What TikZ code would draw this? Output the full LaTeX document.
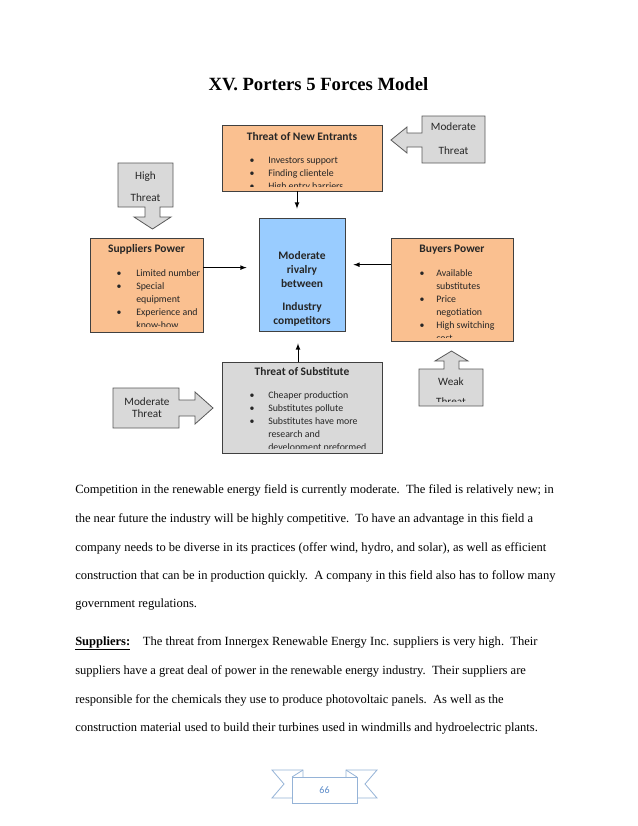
\documentclass[tikz,border=0pt]{standalone}
\usepackage{fontspec}
\setmainfont{Liberation Serif}
\newfontfamily\calibri{Carlito}
\usepackage{xcolor}
\usepackage{tikz}
\usetikzlibrary{positioning}
\definecolor{peach}{HTML}{FAC090}
\definecolor{rivalblue}{HTML}{99CCFF}
\definecolor{calloutgrey}{HTML}{D9D9D9}
\definecolor{ribbonblue}{HTML}{95B3D7}
\definecolor{numblue}{HTML}{5B8BC9}
\tikzset{
	forcebox/.style={rectangle, draw=black!75, line width=0.6pt, inner sep=0pt},
	calloutshape/.style={draw=black!65, fill=calloutgrey, line width=0.6pt},
	forcearrow/.style={-latex, line width=0.6pt}
}
\tikzset{
	boxtitle/.style={font=\calibri\bfseries\fontsize{8.6}{10}\selectfont, text=black!85, anchor=mid, inner sep=0pt},
	bulletdot/.style={font=\calibri\fontsize{7.4}{9}\selectfont, text=black!85, anchor=mid, inner sep=0pt},
	bullettext/.style={font=\calibri\fontsize{7.4}{9}\selectfont, text=black!85, anchor=mid west, inner sep=0pt},
	callouttext/.style={font=\calibri\fontsize{8.4}{10}\selectfont, text=black!85, anchor=mid, inner sep=0pt},
	bodyline/.style={font=\fontsize{9.4}{11}\selectfont, anchor=mid west, inner sep=0pt}
}

\begin{document}
\begin{tikzpicture}[x=0.75pt, y=-0.75pt]
		\useasboundingbox[fill=white] (0,0) rectangle (638,826);
		\node[font=\bfseries\fontsize{14}{16}\selectfont, anchor=mid, inner sep=0pt] at (318.5,87) (title) {XV. Porters 5 Forces Model};
		
		%Boxes
		\node[forcebox, fill=peach, minimum width=120pt, minimum height=49.5pt] at (302,158) (entrants) {};
		\node[forcebox, fill=peach, minimum width=84.75pt, minimum height=70.5pt] at (146.5,285) (suppliers) {};
		\node[forcebox, fill=rivalblue, minimum width=64.5pt, minimum height=84.75pt] at (302,274.5) (rivalry) {};
		\node[forcebox, fill=peach, minimum width=91.5pt, minimum height=77.25pt] at (452,289.5) (buyers) {};
		\node[forcebox, fill=calloutgrey, minimum width=120pt, minimum height=68.25pt] at (302,407.5) (substitute) {};
		
		%Threat of new entrants
		\begin{scope}
			\clip (entrants.north west) rectangle ([yshift=3.9pt]entrants.south east);
			\node[boxtitle] at (302,137) (entT) {Threat of New Entrants};
			\node[bulletdot] at (252,160) (entB1) {•};
			\node[bullettext] at (268,160) (ent1) {Investors support};
			\node[bulletdot] at (252,173) (entB2) {•};
			\node[bullettext] at (268,173) (ent2) {Finding clientele};
			\node[bulletdot] at (252,186) (entB3) {•};
			\node[bullettext] at (268,186) (ent3) {High entry barriers};
		\end{scope}
		
		%Suppliers power
		\begin{scope}
			\clip (suppliers.north west) rectangle ([yshift=4.5pt]suppliers.south east);
			\node[boxtitle] at (146.5,249) (supT) {Suppliers Power};
			\node[bulletdot] at (119,273) (supB1) {•};
			\node[bullettext] at (136,273) (sup1) {Limited number};
			\node[bulletdot] at (119,286) (supB2) {•};
			\node[bullettext] at (136,286) (sup2) {Special};
			\node[bullettext] at (136,299) (sup3) {equipment};
			\node[bulletdot] at (119,312) (supB3) {•};
			\node[bullettext] at (136,312) (sup4) {Experience and};
			\node[bullettext] at (136,325) (sup5) {know-how};
		\end{scope}
		
		%Rivalry
		\node[boxtitle] at (302,256) (riv1) {Moderate};
		\node[boxtitle] at (302,270) (riv2) {rivalry};
		\node[boxtitle] at (302,284) (riv3) {between};
		\node[boxtitle] at (302,307) (riv4) {Industry};
		\node[boxtitle] at (302,321) (riv5) {competitors};
		
		%Buyers power
		\begin{scope}
			\clip (buyers.north west) rectangle ([yshift=2.6pt]buyers.south east);
			\node[boxtitle] at (452,249) (buyT) {Buyers Power};
			\node[bulletdot] at (422,273) (buyB1) {•};
			\node[bullettext] at (436,273) (buy1) {Available};
			\node[bullettext] at (436,286) (buy2) {substitutes};
			\node[bulletdot] at (422,299) (buyB2) {•};
			\node[bullettext] at (436,299) (buy3) {Price};
			\node[bullettext] at (436,312) (buy4) {negotiation};
			\node[bulletdot] at (422,325) (buyB3) {•};
			\node[bullettext] at (436,325) (buy5) {High switching};
			\node[bullettext] at (436,338) (buy6) {cost};
		\end{scope}
		
		%Threat of substitute
		\begin{scope}
			\clip (substitute.north west) rectangle ([yshift=3.9pt]substitute.south east);
			\node[boxtitle] at (302,372) (subT) {Threat of Substitute};
			\node[bulletdot] at (252,395) (subB1) {•};
			\node[bullettext] at (268,395) (sub1) {Cheaper production};
			\node[bulletdot] at (252,408) (subB2) {•};
			\node[bullettext] at (268,408) (sub2) {Substitutes pollute};
			\node[bulletdot] at (252,421) (subB3) {•};
			\node[bullettext] at (268,421) (sub3) {Substitutes have more};
			\node[bullettext] at (268,434) (sub4) {research and};
			\node[bullettext] at (268,447) (sub5) {development preformed};
		\end{scope}
		
		%Lines
		\coordinate (entfoot) at ([xshift=-3.75pt]entrants.south);
		\coordinate (subhead) at ([xshift=-3pt]substitute.north);
		\draw[forcearrow, shorten >=6.75pt] (entfoot) -- (entfoot |- rivalry.north);
		\draw[forcearrow, shorten >=9pt] (subhead) -- (subhead |- rivalry.south);
		\draw[forcearrow, shorten >=9pt] (suppliers.17.7) -- (suppliers.17.7 -| rivalry.west);
		\draw[forcearrow, shorten >=6pt] (buyers.158.9) -- (buyers.158.9 -| rivalry.east);
		
		%Callouts
		\filldraw[calloutshape] (485,116) -- (422,116) -- (422,133) -- (407,133) -- (407,127) -- (391,140) -- (407,153) -- (407,147) -- (422,147) -- (422,163) -- (485,163) -- cycle;
		\node[callouttext] at (453.5,127) (entC1) {Moderate};
		\node[callouttext] at (453.5,151) (entC2) {Threat};
		
		\filldraw[calloutshape] (118,163) -- (173,163) -- (173,207) -- (160,207) -- (160,217) -- (171,217) -- (152.5,229) -- (134,217) -- (145,217) -- (145,207) -- (118,207) -- cycle;
		\node[callouttext] at (145.5,176) (supC1) {High};
		\node[callouttext] at (145.5,198) (supC2) {Threat};
		
		\filldraw[calloutshape] (113,388) -- (179,388) -- (179,400) -- (195,400) -- (195,392) -- (213,408) -- (195,424) -- (195,416) -- (179,416) -- (179,428) -- (113,428) -- cycle;
		\node[callouttext] at (147,402) (subC1) {Moderate};
		\node[callouttext] at (147,414) (subC2) {Threat};
		
		\filldraw[calloutshape] (419,406) -- (419,369) -- (444,369) -- (444,361) -- (435,361) -- (451.5,351) -- (468,361) -- (459,361) -- (459,369) -- (483,369) -- (483,406) -- cycle;
		\begin{scope}
			\clip (419,369) rectangle (483,401.5);
			\node[callouttext] at (451,382) (buyC1) {Weak};
			\node[callouttext] at (451,402) (buyC2) {Threat};
		\end{scope}
		
		%Text
		\node[bodyline] at (75,490) (p1) {Competition in the renewable energy field is currently moderate.\ \ The filed is relatively new; in};
		\node[bodyline] at (75,519) (p2) {the near future the industry will be highly competitive.\ \ To have an advantage in this field a};
		\node[bodyline] at (75,548) (p3) {company needs to be diverse in its practices (offer wind, hydro, and solar), as well as efficient};
		\node[bodyline] at (75,576) (p4) {construction that can be in production quickly.\ \ A company in this field also has to follow many};
		\node[bodyline] at (75,604) (p5) {government regulations.};
		
		\node[bodyline] at (75,642) (q1) {\underline{\textbf{Suppliers:}}\hspace{9.5pt}The threat from Innergex Renewable Energy Inc. suppliers is very high.\ \ Their};
		\node[bodyline] at (75,671) (q2) {suppliers have a great deal of power in the renewable energy industry.\ \ Their suppliers are};
		\node[bodyline] at (75,700) (q3) {responsible for the chemicals they use to produce photovoltaic panels.\ \ As well as the};
		\node[bodyline] at (75,728) (q4) {construction material used to build their turbines used in windmills and hydroelectric plants.};
		
		%Page number
		\draw[ribbonblue, line width=0.6pt] (292,798) -- (272,798) -- (284,784) -- (272,770) -- (303,770) -- (303,777);
		\draw[ribbonblue, line width=0.6pt] (292,777) -- (303,770);
		\draw[ribbonblue, line width=0.6pt] (357,798) -- (377,798) -- (365,784) -- (377,770) -- (346,770) -- (346,777);
		\draw[ribbonblue, line width=0.6pt] (357,777) -- (346,770);
		\node[draw=ribbonblue, fill=white, line width=0.6pt, minimum width=48.75pt, minimum height=19.5pt, inner sep=0pt, font=\calibri\fontsize{7.5}{9}\selectfont, text=numblue] at (324.5,790) (pagenum) {66};
	\end{tikzpicture}
\end{document}
